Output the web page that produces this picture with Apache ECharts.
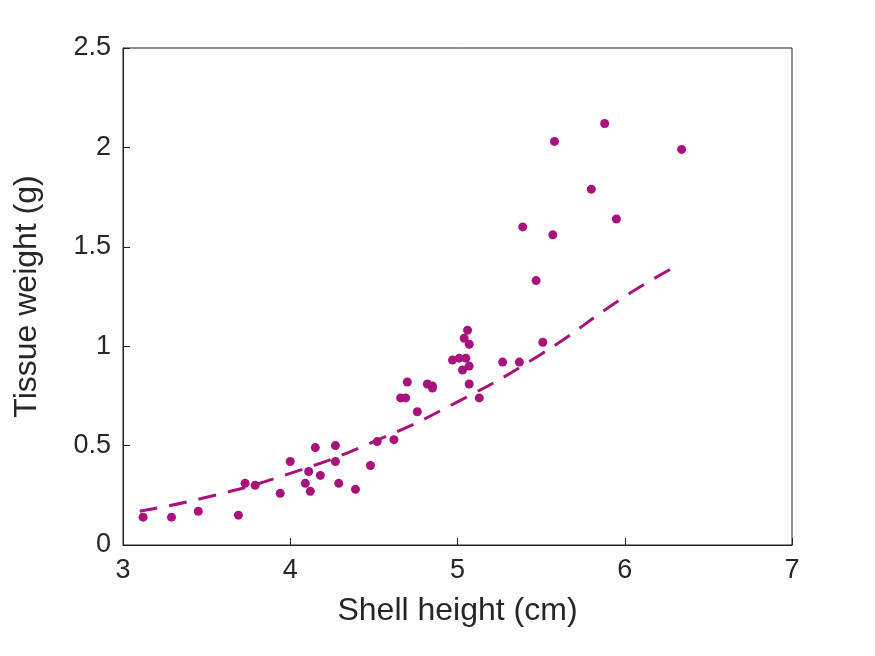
<!DOCTYPE html>
<html>
<head>
<meta charset="utf-8">
<script src="https://cdn.jsdelivr.net/npm/echarts@6/dist/echarts.min.js"></script>
<style>html,body{margin:0;padding:0;background:#fff}#main{width:875px;height:656px}</style>
</head>
<body>
<div id="main"></div>
<script>
var shellHeight = [3.12, 3.29, 3.45, 3.69, 3.73, 3.79, 3.94, 4.00, 4.09, 4.11, 4.12, 4.15, 4.18, 4.27, 4.27, 4.29, 4.39, 4.48, 4.52, 4.62, 4.66, 4.69, 4.70, 4.76, 4.82, 4.85, 4.85, 4.97, 5.01, 5.03, 5.05, 5.04, 5.06, 5.07, 5.07, 5.07, 5.13, 5.27, 5.37, 5.39, 5.47, 5.51, 5.57, 5.58, 5.80, 5.88, 5.95, 6.34];
var tissueWeight = [0.14, 0.14, 0.17, 0.15, 0.31, 0.30, 0.26, 0.42, 0.31, 0.37, 0.27, 0.49, 0.35, 0.50, 0.42, 0.31, 0.28, 0.40, 0.52, 0.53, 0.74, 0.74, 0.82, 0.67, 0.81, 0.80, 0.79, 0.93, 0.94, 0.88, 0.94, 1.04, 1.08, 1.01, 0.81, 0.90, 0.74, 0.92, 0.92, 1.60, 1.33, 1.02, 1.56, 2.03, 1.79, 2.12, 1.64, 1.99];
var fitX = [3.1, 3.5, 4.0, 4.5, 5.0, 5.5, 6.0, 6.28];
var fitY = [0.17, 0.24, 0.36, 0.52, 0.72, 0.96, 1.25, 1.39];

var color = '#a8127c';
var font = 'Liberation Sans, Arial, sans-serif';
var chart = echarts.init(document.getElementById('main'));
chart.setOption({
  animation: false,
  grid: { left: 123, right: 83, top: 48, bottom: 111, show: true, borderColor: '#222', borderWidth: 1 },
  xAxis: {
    type: 'value', min: 3, max: 7, interval: 1,
    name: 'Shell height (cm)', nameLocation: 'middle', nameGap: 50,
    nameTextStyle: { fontSize: 32, color: '#262626', fontFamily: font },
    axisLine: { lineStyle: { color: '#222' } },
    axisTick: { inside: true, length: 7, lineStyle: { color: '#222' } },
    axisLabel: { fontSize: 27, color: '#262626', fontFamily: font, margin: 12 },
    splitLine: { show: false }
  },
  yAxis: {
    type: 'value', min: 0, max: 2.5, interval: 0.5,
    name: 'Tissue weight (g)', nameLocation: 'middle', nameGap: 80,
    nameTextStyle: { fontSize: 32, color: '#262626', fontFamily: font },
    axisLine: { show: true, lineStyle: { color: '#222' } },
    axisTick: { show: true, inside: true, length: 7, lineStyle: { color: '#222' } },
    axisLabel: { fontSize: 27, color: '#262626', fontFamily: font, margin: 12,
      formatter: function (v) { return String(v); } },
    splitLine: { show: false }
  },
  series: [{
    type: 'scatter', symbolSize: 9,
    itemStyle: { color: color, opacity: 1 },
    data: shellHeight.map(function (x, i) { return [x, tissueWeight[i]]; })
  }, {
    type: 'line', smooth: true, symbol: 'none',
    lineStyle: { color: color, width: 3, type: [18, 12] },
    data: fitX.map(function (x, i) { return [x, fitY[i]]; })
  }]
});
</script>
</body>
</html>
